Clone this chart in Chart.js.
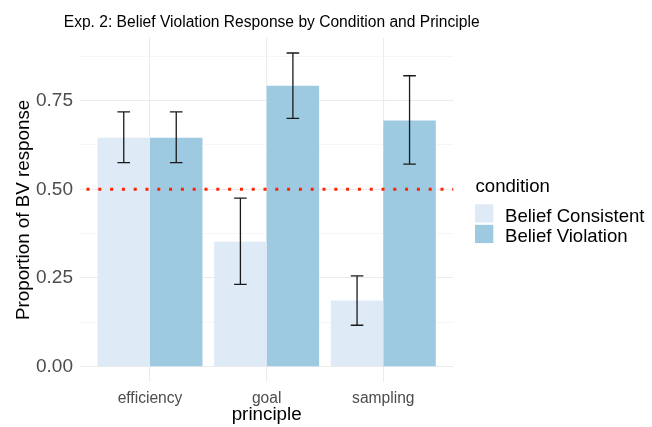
<!DOCTYPE html>
<html>
<head>
<meta charset="utf-8">
<script src="https://cdn.jsdelivr.net/npm/chart.js@4.4.1/dist/chart.umd.min.js"></script>
<style>
  html, body { margin: 0; padding: 0; background: #fff; }
  #wrap { position: relative; width: 652px; height: 427px; }
</style>
</head>
<body>
<div id="wrap"><canvas id="chart"></canvas></div>
<script>
const principles = ["efficiency", "goal", "sampling"];
const conditions = ["Belief Consistent", "Belief Violation"];
const consistentValues = [0.645, 0.352, 0.187];
const violationValues = [0.645, 0.792, 0.694];
const consistentLow = [0.575, 0.232, 0.117];
const consistentHigh = [0.718, 0.475, 0.256];
const violationLow = [0.575, 0.700, 0.571];
const violationHigh = [0.718, 0.884, 0.820];
const yTicks = [0, 0.125, 0.25, 0.375, 0.5, 0.625, 0.75, 0.875];
const chanceLevel = 0.5;

const FONT = "'Liberation Sans', Arial, Helvetica, sans-serif";
const colors = ["#deebf7", "#9ecae1"];

const toPoints = (vals) => vals.map((v, i) => ({ x: i + 1, y: v }));
const isMajor = (v) => Math.abs(v * 4 - Math.round(v * 4)) < 1e-9;

// error bars, chance line, titles and legend drawn on top
const extras = {
  id: "extras",
  afterDatasetsDraw(chart) {
    const { ctx, chartArea, scales } = chart;
    const y = scales.y;

    // error bars
    const lows = [consistentLow, violationLow];
    const highs = [consistentHigh, violationHigh];
    ctx.save();
    ctx.strokeStyle = "#1a1a1a";
    ctx.lineWidth = 1.3;
    [0, 1].forEach((d) => {
      const meta = chart.getDatasetMeta(d);
      meta.data.forEach((bar, i) => {
        const cx = bar.x;
        const top = y.getPixelForValue(highs[d][i]);
        const bot = y.getPixelForValue(lows[d][i]);
        const hw = 6.3;
        ctx.beginPath();
        ctx.moveTo(cx, top); ctx.lineTo(cx, bot);
        ctx.moveTo(cx - hw, top); ctx.lineTo(cx + hw, top);
        ctx.moveTo(cx - hw, bot); ctx.lineTo(cx + hw, bot);
        ctx.stroke();
      });
    });
    ctx.restore();

    // dotted chance line
    const yc = y.getPixelForValue(chanceLevel);
    ctx.save();
    ctx.strokeStyle = "#ff2200";
    ctx.lineWidth = 3;
    ctx.setLineDash([3, 8.8]);
    ctx.lineDashOffset = 5.3;
    ctx.beginPath();
    ctx.moveTo(chartArea.left, yc);
    ctx.lineTo(chartArea.right, yc);
    ctx.stroke();
    ctx.restore();
  },
  afterDraw(chart) {
    const { ctx, chartArea } = chart;
    const midX = (chartArea.left + chartArea.right) / 2;
    ctx.save();
    ctx.fillStyle = "#000";
    ctx.textBaseline = "alphabetic";

    // title
    ctx.font = "15.6px " + FONT;
    ctx.textAlign = "center";
    ctx.fillText("Exp. 2: Belief Violation Response by Condition and Principle", midX + 5, 27);

    // x axis title
    ctx.font = "18.8px " + FONT;
    ctx.fillText("principle", midX, 420);

    // y axis title
    ctx.save();
    ctx.translate(28.5, (chartArea.top + chartArea.bottom) / 2);
    ctx.rotate(-Math.PI / 2);
    ctx.fillText("Proportion of BV response", 0, 0);
    ctx.restore();

    // legend
    ctx.textAlign = "left";
    ctx.font = "18.6px " + FONT;
    ctx.fillText("condition", 475.5, 191.7);
    conditions.forEach((name, i) => {
      const top = 204.3 + i * 20.5;
      ctx.fillStyle = colors[i];
      ctx.fillRect(475, top, 18.3, 18.3);
      ctx.fillStyle = "#000";
      ctx.fillText(name, 505, top + 17.4);
    });
    ctx.restore();
  }
};

new Chart(document.getElementById("chart"), {
  type: "bar",
  data: {
    datasets: [
      {
        label: conditions[0],
        data: toPoints(consistentValues),
        backgroundColor: colors[0],
        borderWidth: 0,
        categoryPercentage: 0.9,
        barPercentage: 1.0,
      },
      {
        label: conditions[1],
        data: toPoints(violationValues),
        backgroundColor: colors[1],
        borderWidth: 0,
        categoryPercentage: 0.9,
        barPercentage: 1.0,
      },
    ],
  },
  options: {
    responsive: true,
    maintainAspectRatio: false,
    animation: false,
    devicePixelRatio: 1,
    layout: {
      padding: { left: 0, right: 198.7, top: 37.4, bottom: 0 },
    },
    plugins: {
      legend: { display: false },
      title: { display: false },
      tooltip: { enabled: false },
    },
    scales: {
      x: {
        type: "linear",
        min: 0.4,
        max: 3.6,
        offset: false,
        afterBuildTicks: (scale) => {
          scale.ticks = principles.map((_, i) => ({ value: i + 1 }));
        },
        afterFit: (scale) => { scale.height = 44.6; },
        ticks: {
          autoSkip: false,
          maxRotation: 0,
          padding: 7,
          color: "#4d4d4d",
          font: { family: FONT, size: 15.6 },
          callback: (v) => principles[Math.round(v) - 1],
        },
        grid: {
          offset: false,
          color: "#ebebeb",
          lineWidth: 1.1,
          drawTicks: false,
        },
        border: { display: false },
      },
      y: {
        min: -0.044,
        max: 0.928,
        afterBuildTicks: (scale) => {
          scale.ticks = yTicks.map((v) => ({ value: v }));
        },
        afterFit: (scale) => { scale.width = 80; },
        ticks: {
          padding: 7,
          color: "#4d4d4d",
          font: { family: FONT, size: 19 },
          callback: (v) => (isMajor(v) ? v.toFixed(2) : ""),
        },
        grid: {
          color: (c) => (c.tick && isMajor(c.tick.value) ? "#ebebeb" : "#f4f4f4"),
          lineWidth: (c) => (c.tick && isMajor(c.tick.value) ? 1.1 : 0.8),
          drawTicks: false,
        },
        border: { display: false },
      },
    },
  },
  plugins: [extras],
});
</script>
</body>
</html>
